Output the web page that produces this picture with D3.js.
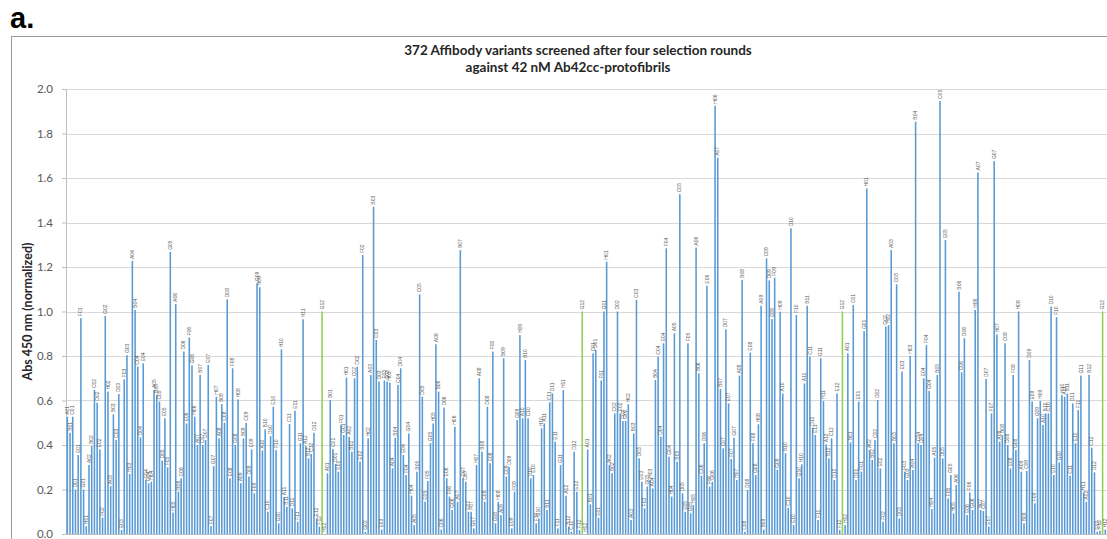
<!DOCTYPE html>
<html>
<head>
<meta charset="utf-8">
<script src="https://cdn.jsdelivr.net/npm/d3@7"></script>
<style>
  body { margin: 0; background: #fff; }
  svg { display: block; }
</style>
</head>
<body>
<div id="chart"></div>
<script>
// wells are listed column by column: A01..H01, A02..H02, ... A12..H12
const wellRows = ["A", "B", "C", "D", "E", "F", "G", "H"];
const wellCols = ["01", "02", "03", "04", "05", "06", "07", "08", "09", "10", "11", "12"];
const controlWell = "G12";
const yTicks = [0, 0.2, 0.4, 0.6, 0.8, 1.0, 1.2, 1.4, 1.6, 1.8, 2.0];

const plate1 = [
  .527, .455, .527, .20, .355, .97, .20, .035,
  .31, .395, .647, .59, .38, .073, .98, .64,
  .215, .538, .423, .629, .018, .695, .804, .27,
  1.227, 1.007, .752, .434, .767, .243, .228, .235,
  .647, .625, .595, .33, .52, .30, 1.268, .096,
  1.034, .19, .25, .82, .497, .883, .758, .527,
  .40, .715, .40, .423, .76, .035, .305, .617,
  .43, .584, .50, 1.055, .25, .745, .40, .605,
  .228, .43, .50, .258, .38, .183, 1.127, 1.109,
  .375, .47, .10, .44, .572, .377, .048, .83,
  .165, .123, .494, .115, .554, .055, .408, .965,
  .395, .34, .36, .455, .07, .033, 1.0, 0
];
const plate2 = [
  .273, .602, .382, .315, .28, .49, .445, .703,
  .437, .37, .70, .752, .325, 1.254, .01, .43,
  .715, 1.471, .872, .685, .02, .69, .685, .68,
  .295, .433, .67, .745, .355, .265, .452, .172,
  .04, .28, 1.077, .617, .145, .238, .408, .497,
  .853, .64, .02, .568, .25, .168, .108, .482,
  .145, 1.276, .25, .235, .10, .10, .025, .31,
  .70, .37, .145, .572, .318, .82, .048, .145,
  .085, .79, .258, .302, .025, .19, .512, .894,
  .52, .782, .52, .25, .265, .048, .07, .475,
  .497, .108, .592, .632, .415, .025, .31, .647,
  .172, .033, .01, .37, .19, .018, 1.0, 0
];
const plate3 = [
  .38, .133, .812, .827, .073, .69, 1.0, 1.224,
  .31, .273, .542, 1.0, .542, .508, .508, .583,
  .063, .452, 1.052, .34, .235, .115, .213, .243,
  .205, .692, .797, .437, .857, 1.284, .347, .168,
  .902, .325, 1.527, .183, .10, .857, .093, .13,
  1.287, .722, .262, .408, 1.116, .213, .235, 1.925,
  1.691, .652, .385, .92, .587, .337, .433, .243,
  .712, 1.142, .01, .198, .815, .408, .265, .493,
  1.026, .02, 1.239, 1.14, .966, 1.152, .288, .999,
  .632, .363, .118, 1.374, .04, .984, .25, .313,
  .677, 1.026, .797, .478, .445, .063, .79, .598,
  .403, .34, .43, .243, .632, .018, 1.0, .04
];
const plate4 = [
  .812, .412, 1.029, .243, .595, .28, .912, 1.553,
  .377, .333, .422, .602, .295, .055, .932, .939,
  1.276, .408, 1.122, .07, .73, .28, .243, .801,
  .288, 1.853, .408, .40, .70, .849, .643, .112,
  .343, .715, 1.946, .34, 1.321, .16, .265, .093,
  .22, 1.089, .727, .88, .085, .187, .108, 1.007,
  1.625, .108, .103, .697, .033, .542, 1.676, .897,
  .415, .445, .857, .40, .295, .715, .377, 1.0,
  .28, .048, .283, .782, .595, .138, .52, .598,
  .49, .542, .542, 1.022, .265, .975, .322, .625,
  .617, .632, .262, .587, .408, .557, .712, .187,
  .145, .715, .388, .277, .01, .015, 1.0, .02
];
const plates = [plate1, plate2, plate3, plate4];

const width = 1107, height = 539;
const left = 66, right = 66 + 384 * 2.71;
const y0 = 534, yTop = 89;

// flatten plates into one long list of bars
const bars = [];
plates.forEach(function(vals, p) {
  let k = 0;
  wellCols.forEach(function(c) {
    wellRows.forEach(function(r) {
      bars.push({ id: p + "-" + r + c, well: r + c, value: vals[k] });
      k++;
    });
  });
});

const svg = d3.select("#chart")
  .append("svg")
  .attr("width", width)
  .attr("height", height)
  .style("font-family", "Lato, 'Open Sans', sans-serif");

svg.append("text")
  .attr("x", 10).attr("y", 28)
  .style("font-family", "'Liberation Sans', Arial, sans-serif")
  .style("font-size", "29px").style("font-weight", "bold")
  .text("a.");

svg.append("rect")
  .attr("x", 11.5).attr("y", 36.5)
  .attr("width", 1200).attr("height", 600)
  .attr("fill", "none").attr("stroke", "#9a9a9a");

const x = d3.scaleBand()
  .domain(bars.map(function(d) { return d.id; }))
  .range([left, right])
  .paddingInner(0.42)
  .paddingOuter(0.2);

const y = d3.scaleLinear().domain([0, 2]).range([y0, yTop]);

// grid
svg.append("g")
  .selectAll("line")
  .data(yTicks.slice(1))
  .enter()
  .append("line")
  .attr("x1", left).attr("x2", width)
  .attr("y1", function(d) { return Math.round(y(d)) + 0.5; })
  .attr("y2", function(d) { return Math.round(y(d)) + 0.5; })
  .attr("stroke", "#d9d9d9");

const yAxis = svg.append("g")
  .attr("transform", "translate(" + left + ",0)")
  .call(d3.axisLeft(y).tickValues(yTicks).tickFormat(d3.format(".1f")).tickSize(4).tickPadding(9));
yAxis.select(".domain").attr("stroke", "#bfbfbf");
yAxis.selectAll(".tick line").attr("stroke", "#bfbfbf");
yAxis.selectAll(".tick text")
  .attr("fill", "#595959")
  .style("font-size", "11.5px")
  .style("font-family", "Lato, 'Open Sans', sans-serif");

svg.append("line")
  .attr("x1", left).attr("x2", width)
  .attr("y1", y0 + 0.5).attr("y2", y0 + 0.5)
  .attr("stroke", "#bfbfbf");

svg.append("g")
  .selectAll("rect")
  .data(bars)
  .enter()
  .append("rect")
  .attr("x", function(d) { return x(d.id); })
  .attr("width", x.bandwidth())
  .attr("y", function(d) { return y(d.value); })
  .attr("height", function(d) { return y0 - y(d.value); })
  .attr("fill", function(d) { return d.well === controlWell ? "#92d050" : "#5b9bd5"; });

svg.append("g")
  .selectAll("text")
  .data(bars)
  .enter()
  .append("text")
  .attr("transform", function(d) {
    return "translate(" + (x(d.id) + x.bandwidth() / 2 + 1.6) + "," + (y(d.value) - 2) + ") rotate(-90)";
  })
  .attr("fill", "#595959")
  .style("font-size", "5px")
  .style("font-family", "'Liberation Sans', Arial, sans-serif")
  .text(function(d) { return d.well; });

const title = svg.append("text")
  .attr("y", 55)
  .attr("text-anchor", "middle")
  .attr("fill", "#262626")
  .style("font-size", "13.5px").style("font-weight", "bold");
title.append("tspan").attr("x", 578).text("372 Affibody variants screened after four selection rounds");
title.append("tspan").attr("x", 568).attr("dy", 17).text("against 42 nM Ab42cc-protofibrils");

svg.append("text")
  .attr("transform", "translate(32," + ((y0 + yTop) / 2) + ") rotate(-90)")
  .attr("text-anchor", "middle")
  .attr("fill", "#262626")
  .style("font-size", "12.5px").style("font-weight", "bold")
  .text("Abs 450 nm (normalized)");
</script>
</body>
</html>
